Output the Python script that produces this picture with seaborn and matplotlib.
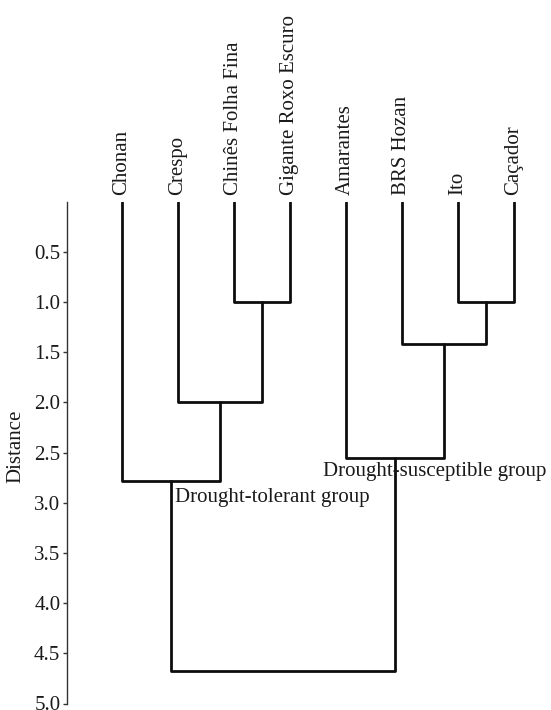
import numpy as np
import pandas as pd
import matplotlib
matplotlib.use("Agg")
import matplotlib.pyplot as plt
import seaborn as sns

# ---- data ----
leaves = ["Chonan", "Crespo", "Chinês Folha Fina", "Gigante Roxo Escuro",
          "Amarantes", "BRS Hozan", "Ito", "Caçador"]
# merges: (left child, right child, distance); children are leaf indices (0..7)
# or new node ids (8, 9, ...) in order of creation
merge_left = [2, 6, 1, 5, 0, 4, 12]
merge_right = [3, 7, 8, 9, 10, 11, 13]
merge_height = [1.0, 1.0, 2.0, 1.42, 2.78, 2.55, 4.68]
y_ticks = [0.5, 1.0, 1.5, 2.0, 2.5, 3.0, 3.5, 4.0, 4.5, 5.0]
group_labels = ["Drought-tolerant group", "Drought-susceptible group"]

# ---- build link segments ----
node_x = {i: float(i) for i in range(len(leaves))}
node_h = {i: 0.0 for i in range(len(leaves))}
rows = []
for k, (a, b, h) in enumerate(zip(merge_left, merge_right, merge_height)):
    nid = len(leaves) + k
    xa, xb = node_x[a], node_x[b]
    pts = [(xa, node_h[a]), (xa, h), (xb, h), (xb, node_h[b])]
    for order, (px, py) in enumerate(pts):
        rows.append({"link": k, "order": order, "x": px, "y": py})
    node_x[nid] = (xa + xb) / 2
    node_h[nid] = h
df = pd.DataFrame(rows)

sns.set_theme(style="white")
plt.rcParams["font.family"] = ["Liberation Serif", "DejaVu Serif"]

W, H = 551, 710
fig = plt.figure(figsize=(W / 100, H / 100), dpi=100)
left_px, right_px, top_px, bot_px = 67.3, 541.7, 201.7, 703.5
ax = fig.add_axes([left_px / W, 1 - bot_px / H, (right_px - left_px) / W,
                   (bot_px - top_px) / H])

sns.lineplot(data=df, x="x", y="y", units="link", estimator=None, sort=False,
             color="#0d0d0d", linewidth=2.0, ax=ax, legend=False)

ax.set_xlim(-0.97, 7.5)
ax.set_ylim(5.0, 0.0)

ax.xaxis.tick_top()
ax.set_xticks(range(len(leaves)))
ax.set_xticklabels(leaves, rotation=90, fontsize=15, color="#1a1a1a")
ax.tick_params(axis="x", length=0, pad=4.5)
ax.set_xlabel("")

ax.set_yticks(y_ticks)
ax.set_yticklabels([f"{v:.1f}" for v in y_ticks], fontsize=15, color="#1a1a1a")
ax.tick_params(axis="y", left=True, length=3, width=1.0, color="#333333",
               pad=2, direction="out")
ax.set_ylabel("Distance", fontsize=15, color="#1a1a1a")
ax.yaxis.set_label_coords((25 - left_px) / (right_px - left_px),
                          (bot_px - 446) / (bot_px - top_px))

for s in ["top", "right", "bottom"]:
    ax.spines[s].set_visible(False)
ax.spines["left"].set_color("#333333")
ax.spines["left"].set_linewidth(1.0)
ax.grid(False)

ax.text(0.95, 2.95, group_labels[0], fontsize=15, color="#1a1a1a",
        ha="left", va="center")
ax.text(3.59, 2.69, group_labels[1], fontsize=15, color="#1a1a1a",
        ha="left", va="center")

fig.savefig("out.png", dpi=100)
